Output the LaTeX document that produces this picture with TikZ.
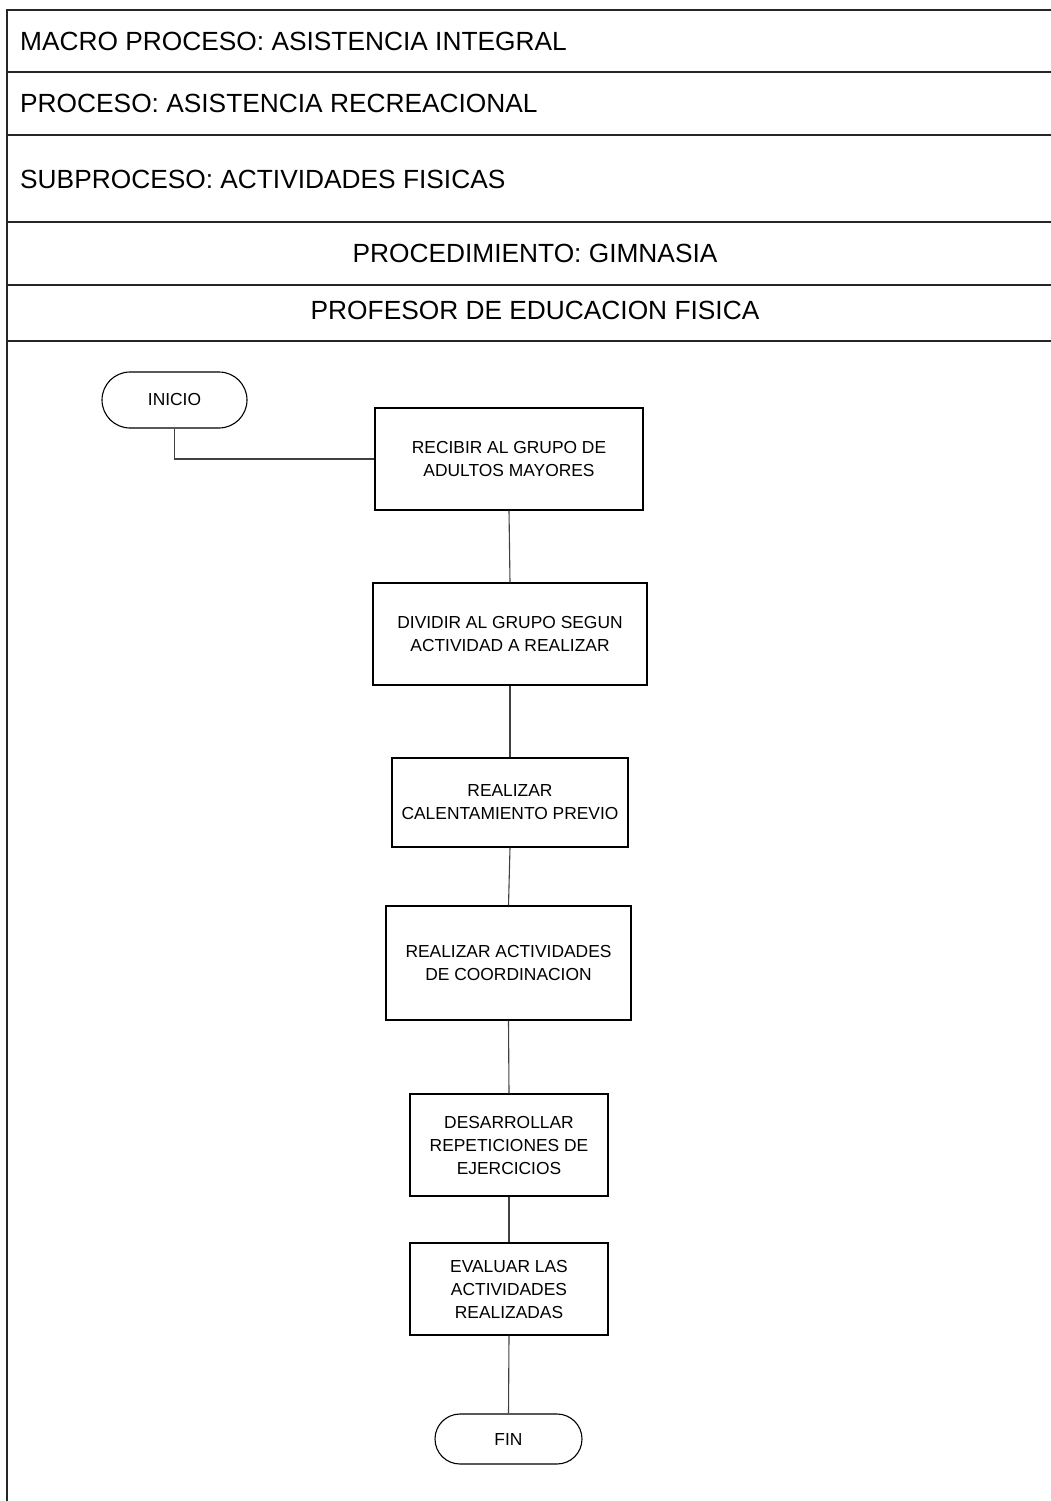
\documentclass[tikz,border=0pt]{standalone}
\usepackage{fontspec}
\setmainfont{Liberation Sans}
\usetikzlibrary{shapes.misc}

\begin{document}
\begin{tikzpicture}[x=1pt,y=-1pt,
    frame/.style={line width=1.6pt, black!85},
    head/.style={anchor=west, inner sep=0pt, font=\fontsize{26.3}{30}\selectfont},
    headc/.style={inner sep=0pt, font=\fontsize{26.3}{30}\selectfont},
    proc/.style={draw, line width=1.1pt, align=center, inner sep=0pt,
                 font=\fontsize{17.4}{23}\selectfont},
    term/.style={draw, line width=1.1pt, rounded rectangle, inner sep=0pt,
                 font=\fontsize{17.4}{23}\selectfont},
    link/.style={line width=1.1pt, black!75}]
                \useasboundingbox (0,0) rectangle (1051,1501);
                % marco y encabezados
                \draw[frame] (7,1501) -- (7,10) -- (1051,10);
                \foreach \y in {72,135,222,285,341}
                    \draw[frame] (7,\y) -- (1051,\y);
                \node[head] (macro) at (20,41) {MACRO PROCESO: ASISTENCIA INTEGRAL};
                \node[head] (proceso) at (20,103) {PROCESO: ASISTENCIA RECREACIONAL};
                \node[head] (subproceso) at (20,179) {SUBPROCESO: ACTIVIDADES FISICAS};
                \node[headc] (procedimiento) at (535,253) {PROCEDIMIENTO: GIMNASIA};
                \node[headc] (responsable) at (535,310) {PROFESOR DE EDUCACION FISICA};
                % flujo
                \node[term, minimum width=145, minimum height=56] (inicio) at (174.5,400) {INICIO};
                \node[proc, minimum width=268, minimum height=102] (recibir) at (509,459)
                    {RECIBIR AL GRUPO DE\\ADULTOS MAYORES};
                \node[proc, minimum width=274, minimum height=102] (dividir) at (510,634)
                    {DIVIDIR AL GRUPO SEGUN\\ACTIVIDAD A REALIZAR};
                \node[proc, minimum width=236, minimum height=89] (calentar) at (510,802.5)
                    {REALIZAR\\CALENTAMIENTO PREVIO};
                \node[proc, minimum width=245, minimum height=114] (coordinar) at (508.5,963)
                    {REALIZAR ACTIVIDADES\\DE COORDINACION};
                \node[proc, minimum width=198, minimum height=102] (repetir) at (509,1145)
                    {DESARROLLAR\\REPETICIONES DE\\EJERCICIOS};
                \node[proc, minimum width=198, minimum height=92] (evaluar) at (509,1289)
                    {EVALUAR LAS\\ACTIVIDADES\\REALIZADAS};
                \node[term, minimum width=147, minimum height=50] (fin) at (508.5,1439) {FIN};
                \draw[link] (inicio.south) |- (recibir.west);
                \draw[link] (recibir.south) -- (dividir.north);
                \draw[link] (dividir.south) -- (calentar.north);
                \draw[link] (calentar.south) -- (coordinar.north);
                \draw[link] (coordinar.south) -- (repetir.north);
                \draw[link] (repetir.south) -- (evaluar.north);
                \draw[link] (evaluar.south) -- (fin.north);
            \end{tikzpicture}
\end{document}
